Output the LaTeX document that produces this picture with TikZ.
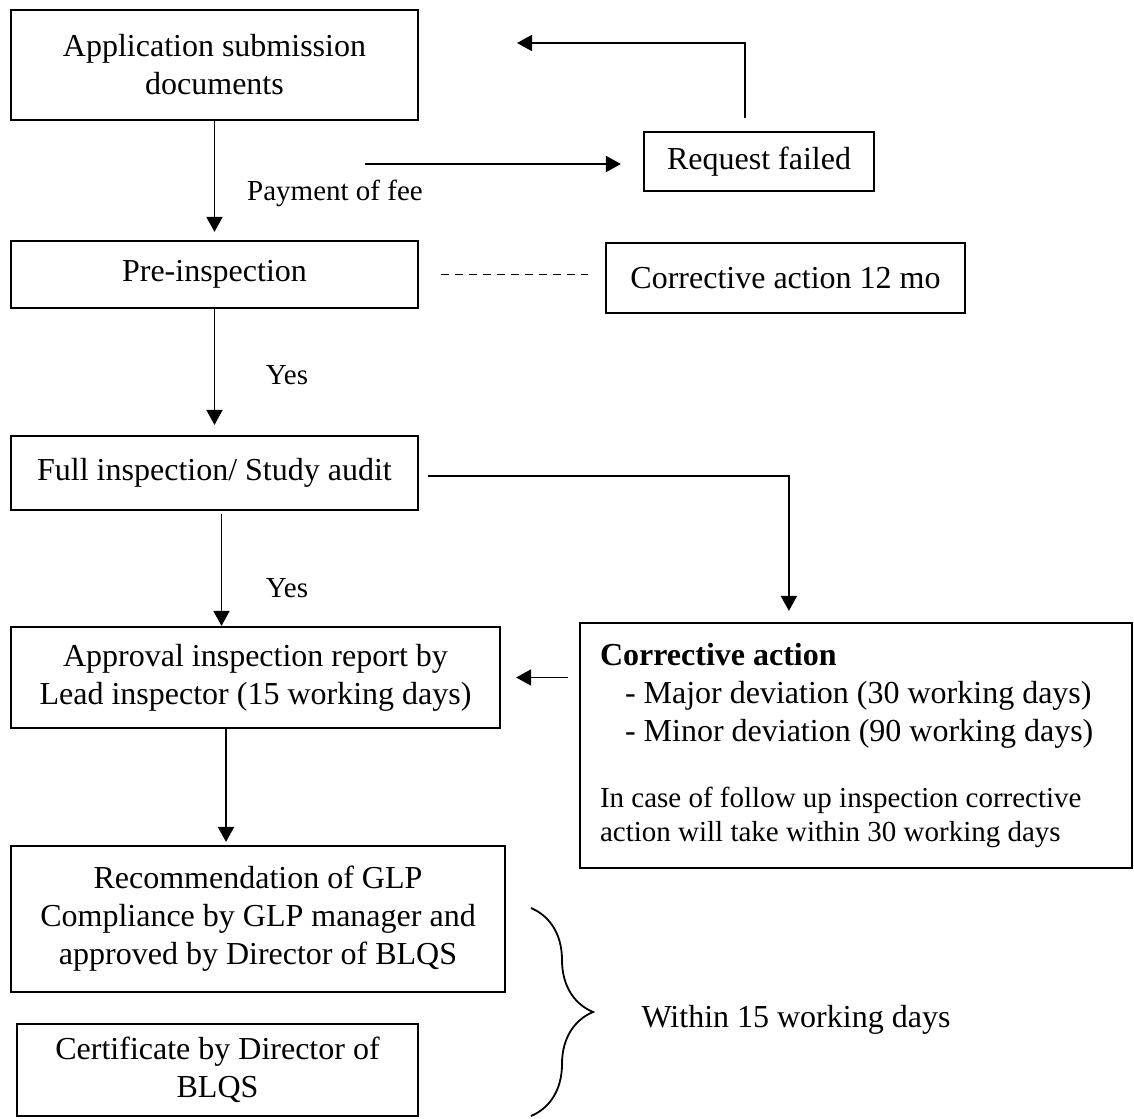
\documentclass[tikz,border=0pt]{standalone}
\usepackage{fontspec}
\setmainfont{Liberation Serif}
\usetikzlibrary{arrows.meta, positioning, calc, decorations.pathreplacing}

\begin{document}
\begin{tikzpicture}[
  x=0.5pt, y=-0.5pt,
  font=\fontsize{16}{19}\selectfont,
  box/.style={draw, line width=1.1pt, align=center, inner sep=0pt},
  arr/.style={-{Triangle[length=7.5pt, width=8pt]}, line width=0.9pt},
  lbl/.style={font=\fontsize{14.5}{17}\selectfont, inner sep=0pt},
]
\useasboundingbox (0,0) rectangle (1134,1118);

% main column
\node[box, minimum width=203.5pt, minimum height=55pt] (app) at (214.5,65)
  {Application submission\\documents};
\node[box, minimum width=203.5pt, minimum height=33.5pt] (pre) at (214.5,274.5)
  {Pre-inspection};
\node[box, minimum width=203.5pt, minimum height=37pt] (full) at (214.5,473)
  {Full inspection/ Study audit};
\node[box, minimum width=244.5pt, minimum height=50.5pt] (appr) at (255.5,677.5)
  {Approval inspection report by\\Lead inspector (15 working days)};
\node[box, minimum width=247pt, minimum height=73pt] (rec) at (258,919)
  {Recommendation of GLP\\Compliance by GLP manager and\\approved by Director of BLQS};
\node[box, minimum width=200.5pt, minimum height=46pt] (cert) at (217.5,1070)
  {Certificate by Director of\\BLQS};

% side boxes
\node[box, minimum width=115pt, minimum height=29.5pt] (fail) at (759,161.5)
  {Request failed};
\node[box, minimum width=179.5pt, minimum height=35pt] (c12) at (785.5,278)
  {Corrective action 12 mo};
\node[box, minimum width=276pt, minimum height=122.5pt, text width=256pt,
      align=flush left] (corr) at (856,745.5) {%
  \setlength{\parindent}{0pt}%
  \textbf{Corrective action}\par
  \hspace*{12.5pt}- Major deviation (30 working days)\par
  \hspace*{12.5pt}- Minor deviation (90 working days)\par
  \vspace{16pt}
  {\fontsize{14.5}{17}\selectfont In case of follow up inspection corrective\\
  action will take within 30 working days\par}};

% labels
\node[lbl] (fee) at (335,193) {Payment of fee};
\node[lbl] (yes1) at (287,375) {Yes};
\node[lbl] (yes2) at (287,588) {Yes};
\node[inner sep=0pt] (within) at (796,1020) {Within 15 working days};

% free ends
\coordinate (feeA) at (365,164);
\coordinate (backA) at (517,43);
\coordinate (fullS) at ($(full.south)+(7,3)$);
\coordinate (apprS) at ($(appr.south)+(-29.5,0)$);
\coordinate (bt) at (531,908);
\coordinate (bb) at (531,1116);

% connectors
\draw[arr, shorten >=4pt] (app.south) -- (pre.north);
\draw[arr, shorten >=5pt] (pre.south) -- (full.north);
\draw[arr] (fullS) -- (fullS |- appr.north);
\draw[arr, shorten >=1.5pt] (apprS) -- (apprS |- rec.north);
\draw[arr, shorten >=11pt] (feeA) -- (feeA -| fail.west);
\draw[arr] ([xshift=-7pt,yshift=6.5pt]fail.north) |- (backA);
\draw[line width=0.9pt, dash pattern=on 4pt off 3pt, shorten <=11pt, shorten >=8.5pt]
  (pre.east) -- (pre.east -| c12.west);
\draw[arr, shorten >=5.5pt] ([xshift=4.5pt,yshift=-1.5pt]full.east)
  -| ($(corr.north west)+(210,0)$);
\draw[arr, shorten <=5.5pt, shorten >=7.5pt] (corr.west |- appr.east) -- (appr.east);
\draw[line width=0.9pt, decorate, decoration={brace, amplitude=31pt}] (bt) -- (bb);
\end{tikzpicture}
\end{document}
